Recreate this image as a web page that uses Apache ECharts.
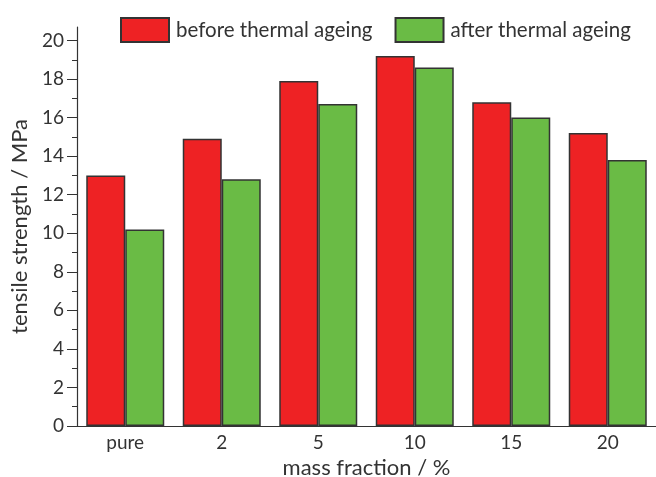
<!DOCTYPE html>
<html lang="en">
<head>
  <meta charset="UTF-8">
  <title>tensile strength</title>
  <script src="https://cdn.jsdelivr.net/npm/echarts@6/dist/echarts.min.js"></script>
  <style>
    html, body { margin: 0; padding: 0; background: #fff; }
  </style>
</head>
<body>
<div id="main" style="width: 656px;height:477px;"></div>
<script type="text/javascript">
  var categories = ['pure', '2', '5', '10', '15', '20'];
  var beforeAgeing = [13.0, 14.9, 17.9, 19.2, 16.8, 15.2];
  var afterAgeing = [10.2, 12.8, 16.7, 18.6, 16.0, 13.8];
  var majorTicks = [0, 2, 4, 6, 8, 10, 12, 14, 16, 18, 20];
  var minorTicks = [1, 3, 5, 7, 9, 11, 13, 15, 17, 19];

  var font = 'Lato, "Open Sans", sans-serif';
  var ink = '#333';

  var myChart = echarts.init(document.getElementById('main'));

  var option = {
    animation: false,
    textStyle: { fontFamily: font, color: ink },
    legend: {
      top: 12,
      left: 115,
      icon: 'rect',
      itemWidth: 48,
      itemHeight: 24,
      itemGap: 22,
      textStyle: { fontSize: 20.5, color: ink, fontFamily: font, padding: [0, 0, 0, 2] },
      data: ['before thermal ageing', 'after thermal ageing']
    },
    grid: { left: 77, right: 0, top: 27, bottom: 51, outerBoundsMode: 'none', containLabel: false },
    xAxis: [
      {
        type: 'category',
        position: 'bottom',
        data: categories,
        name: 'mass fraction / %',
        nameLocation: 'middle',
        nameGap: 29,
        nameTextStyle: { fontSize: 22, color: ink, fontFamily: font },
        axisLine: { lineStyle: { color: ink, width: 1.2 } },
        axisTick: { length: 6, lineStyle: { color: ink } },
        axisLabel: { fontSize: 19, color: ink, margin: 7, fontFamily: font }
      },
      {
        type: 'category',
        position: 'bottom',
        data: categories,
        axisLine: { show: false },
        axisTick: { inside: true, length: 4, lineStyle: { color: ink } },
        axisLabel: { show: false }
      }
    ],
    yAxis: [
      {
        type: 'value',
        position: 'left',
        min: 0,
        max: 20.7,
        name: 'tensile strength / MPa',
        nameLocation: 'middle',
        nameGap: 42,
        nameTextStyle: { fontSize: 22, color: ink, fontFamily: font },
        splitLine: { show: false },
        axisLine: { show: true, lineStyle: { color: ink, width: 1.2 } },
        axisTick: { show: true, length: 10, customValues: majorTicks, lineStyle: { color: ink } },
        axisLabel: { fontSize: 19, color: ink, margin: 13, customValues: majorTicks, fontFamily: font }
      },
      {
        type: 'value',
        position: 'left',
        min: 0,
        max: 20.7,
        splitLine: { show: false },
        axisLine: { show: false },
        axisTick: { show: true, length: 5, customValues: minorTicks, lineStyle: { color: ink } },
        axisLabel: { show: false }
      }
    ],
    series: [
      {
        name: 'before thermal ageing',
        type: 'bar',
        data: beforeAgeing,
        barWidth: 39,
        barGap: '0%',
        itemStyle: { color: '#ee2224', borderColor: '#333', borderWidth: 1.5 }
      },
      {
        name: 'after thermal ageing',
        type: 'bar',
        data: afterAgeing,
        barWidth: 39,
        barGap: '0%',
        itemStyle: { color: '#6abb45', borderColor: '#333', borderWidth: 1.5 }
      }
    ]
  };
  myChart.setOption(option);
</script>
</body>
</html>
